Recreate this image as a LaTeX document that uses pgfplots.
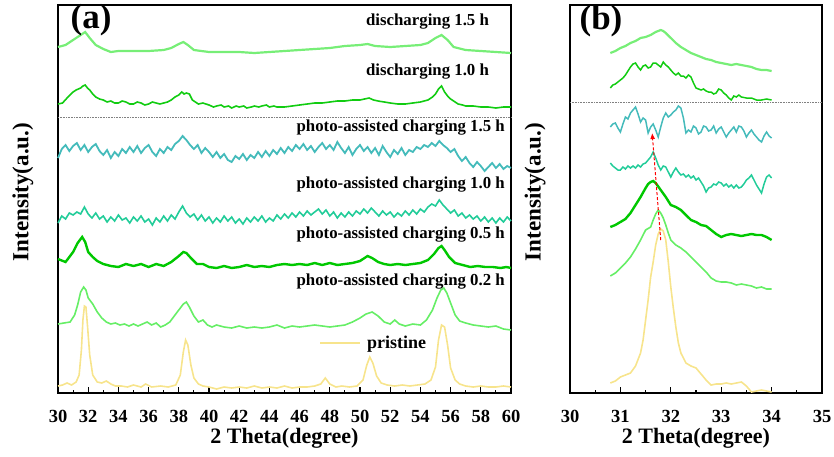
\documentclass[border=0pt]{standalone}
\usepackage{pgfplots}
\pgfplotsset{compat=1.18}
\usepackage{fontspec}
\setmainfont{Liberation Serif}
\usetikzlibrary{arrows.meta}
\definecolor{cpri}{HTML}{F7E48C}
\definecolor{c02}{HTML}{66EE66}
\definecolor{c05}{HTML}{00C800}
\definecolor{c10}{HTML}{22CC99}
\definecolor{c15}{HTML}{44BBBB}
\definecolor{d10}{HTML}{11CC11}
\definecolor{d15}{HTML}{77EE77}
\pgfplotsset{
  myaxis/.style={
    scale only axis, height=388pt,
    ymin=5, ymax=393, y dir=reverse, ytick=\empty,
    axis line style={line width=1.4pt},
    tick style={line width=1.1pt, black},
    tick align=inside, xtick pos=bottom,
    major tick length=6pt, minor tick length=3.5pt,
    /pgf/number format/assume math mode=true,
    ticklabel style={font=\bfseries\fontsize{18.5}{18.5}\selectfont},
    xticklabel style={yshift=-14pt},
    xlabel={2 Theta(degree)}, ylabel={Intensity(a.u.)},
    xlabel style={font=\bfseries\fontsize{22}{22}\selectfont, at={(axis description cs:0.5,0)}, anchor=center, yshift=-45pt},
    ylabel style={font=\bfseries\fontsize{23}{23}\selectfont, at={(axis description cs:0,0.518)}, anchor=center, rotate=0, yshift=35pt},
    clip=false,
  }
}
\begin{document}
\begin{tikzpicture}
\path[use as bounding box] (0pt,0pt) rectangle (834pt,456pt);
% ---------------- (a) ----------------
\begin{axis}[myaxis, at={(58pt,63pt)}, anchor=south west, width=453pt,
  xmin=30, xmax=60, xtick={30,32,...,60}, minor x tick num=1,
  legend style={draw=none, fill=none, at={(0.57,0.129)}, anchor=west,
    font=\bfseries\fontsize{18}{18}\selectfont},
  legend image code/.code={\draw[#1] (0pt,0pt) -- (40pt,0pt);},
  legend cell align=left]
\addplot[cpri, line width=1.6pt] coordinates {
(30.0,386)(30.3,385)(30.6,383)(30.9,385)(31.2,382)(31.4,375)(31.55,350)(31.65,320)(31.75,306)(31.85,307)(31.95,325)(32.1,355)(32.3,375)(32.6,382)(32.9,383)(33.2,381)(33.5,384)(33.8,386)(34.2,386)(34.6,387)(35.0,385)(35.5,387)(35.8,384)(36.2,387)(36.8,386)(37.3,387)(37.8,385)(38.1,375)(38.3,352)(38.45,340)(38.6,345)(38.8,365)(39.0,378)(39.3,384)(39.6,386)(40.0,387)(40.5,389)(41.0,387)(41.5,388)(42.0,387)(42.5,388)(43.0,386)(43.5,388)(44.0,387)(44.5,388)(45.0,386)(45.5,388)(46.0,387)(46.5,387)(47.0,386)(47.4,384)(47.7,378)(48.0,384)(48.4,387)(48.8,386)(49.3,387)(49.8,386)(50.2,380)(50.45,365)(50.65,357)(50.85,363)(51.1,376)(51.4,383)(51.8,385)(52.3,386)(52.8,385)(53.3,386)(53.8,385)(54.3,384)(54.7,380)(55.0,367)(55.2,340)(55.4,325)(55.6,327)(55.8,345)(56.0,368)(56.3,380)(56.6,384)(57.0,386)(57.5,387)(58.0,386)(58.5,387)(59.0,387)(59.5,386)(60.0,387)};
\addlegendentry{\hspace{4pt}pristine}
\addplot[c02, line width=1.6pt, forget plot] coordinates {
(30.0,324)(30.4,323)(30.8,322)(31.1,315)(31.3,305)(31.5,292)(31.7,287)(31.85,290)(32.0,298)(32.3,304)(32.6,312)(32.9,318)(33.2,322)(33.5,324)(33.8,323)(34.1,325)(34.4,324)(34.7,326)(35.0,324)(35.3,326)(35.6,324)(35.9,322)(36.2,325)(36.5,323)(36.8,327)(37.1,325)(37.4,322)(37.7,316)(38.0,310)(38.3,304)(38.5,302)(38.7,307)(39.0,316)(39.3,322)(39.6,320)(39.9,325)(40.2,327)(40.5,325)(41.0,327)(41.5,328)(42.0,326)(42.5,328)(43.0,327)(43.5,328)(44.0,327)(44.5,325)(45.0,328)(45.5,326)(46.0,327)(46.5,326)(47.0,325)(47.5,326)(48.0,327)(48.5,326)(49.0,325)(49.5,322)(50.0,318)(50.4,314)(50.8,312)(51.2,316)(51.6,322)(52.0,324)(52.3,320)(52.6,324)(53.0,326)(53.5,324)(54.0,325)(54.4,320)(54.8,310)(55.1,298)(55.35,290)(55.55,288)(55.75,293)(56.0,303)(56.3,315)(56.6,321)(57.0,323)(57.5,325)(58.0,326)(58.5,327)(59.0,326)(59.5,329)(60.0,330)};
\addplot[c05, line width=2.4pt, forget plot] coordinates {
(30.0,259)(30.5,262)(31.0,252)(31.3,243)(31.6,237)(31.8,242)(32.0,252)(32.3,257)(32.6,261)(33.0,264)(33.5,266)(34.0,267)(34.5,264)(35.0,266)(35.5,264)(36.0,267)(36.5,264)(37.0,266)(37.5,262)(38.0,256)(38.3,252)(38.5,253)(38.8,258)(39.2,264)(39.6,264)(40.0,267)(40.5,268)(41.0,266)(41.5,268)(42.0,267)(42.5,265)(43.0,267)(43.5,266)(44.0,267)(44.5,265)(45.0,264)(45.5,265)(46.0,264)(46.5,265)(47.0,263)(47.5,265)(48.0,263)(48.5,265)(49.0,264)(49.5,263)(50.0,261)(50.5,256)(50.8,258)(51.2,262)(51.6,264)(52.0,265)(52.5,264)(53.0,265)(53.5,264)(54.0,263)(54.5,260)(54.9,254)(55.2,248)(55.4,246)(55.6,250)(55.9,257)(56.3,263)(56.8,265)(57.3,267)(57.8,266)(58.3,267)(58.8,267)(59.3,268)(59.7,267)(60.0,268)};
\addplot[c10, line width=1.6pt, forget plot] coordinates {
(30.0,223)(30.25,216)(30.5,219)(30.75,213)(31.0,215)(31.25,212)(31.5,214)(31.75,207)(32.0,214)(32.25,218)(32.5,213)(32.75,219)(33.0,216)(33.25,222)(33.5,217)(33.75,221)(34.0,215)(34.25,220)(34.5,218)(34.75,223)(35.0,217)(35.25,221)(35.5,216)(35.75,222)(36.0,219)(36.25,225)(36.5,218)(36.75,222)(37.0,216)(37.25,221)(37.5,215)(37.75,219)(38.0,212)(38.25,206)(38.5,213)(38.75,217)(39.0,214)(39.25,220)(39.5,215)(39.75,221)(40.0,217)(40.25,223)(40.5,218)(40.75,222)(41.0,216)(41.25,221)(41.5,217)(41.75,223)(42.0,219)(42.25,224)(42.5,218)(42.75,222)(43.0,217)(43.25,221)(43.5,216)(43.75,222)(44.0,218)(44.25,221)(44.5,215)(44.75,219)(45.0,214)(45.25,218)(45.5,213)(45.75,217)(46.0,212)(46.25,216)(46.5,211)(46.75,215)(47.0,212)(47.25,209)(47.5,214)(47.75,210)(48.0,216)(48.25,212)(48.5,218)(48.75,213)(49.0,217)(49.25,212)(49.5,216)(49.75,211)(50.0,214)(50.25,209)(50.5,213)(50.75,208)(51.0,212)(51.25,216)(51.5,211)(51.75,215)(52.0,212)(52.25,217)(52.5,213)(52.75,216)(53.0,211)(53.25,215)(53.5,210)(53.75,214)(54.0,209)(54.25,212)(54.5,207)(54.75,204)(55.0,206)(55.25,200)(55.5,205)(55.75,209)(56.0,213)(56.25,210)(56.5,216)(56.75,213)(57.0,218)(57.25,215)(57.5,219)(57.75,216)(58.0,221)(58.25,217)(58.5,222)(58.75,218)(59.0,223)(59.25,218)(59.5,222)(59.75,217)(60.0,221)};
\addplot[c15, line width=1.8pt, forget plot] coordinates {
(30.0,158)(30.25,149)(30.5,145)(30.75,151)(31.0,146)(31.25,143)(31.5,150)(31.75,145)(32.0,152)(32.25,147)(32.5,144)(32.75,151)(33.0,155)(33.25,150)(33.5,158)(33.75,152)(34.0,156)(34.25,149)(34.5,153)(34.75,147)(35.0,152)(35.25,146)(35.5,153)(35.75,148)(36.0,145)(36.25,152)(36.5,156)(36.75,149)(37.0,153)(37.25,147)(37.5,150)(37.75,144)(38.0,141)(38.25,136)(38.5,140)(38.75,145)(39.0,149)(39.25,145)(39.5,153)(39.75,148)(40.0,152)(40.25,157)(40.5,152)(40.75,158)(41.0,154)(41.25,160)(41.5,162)(41.75,156)(42.0,159)(42.25,154)(42.5,160)(42.75,155)(43.0,158)(43.25,152)(43.5,157)(43.75,151)(44.0,156)(44.25,150)(44.5,154)(44.75,148)(45.0,153)(45.25,147)(45.5,151)(45.75,145)(46.0,149)(46.25,144)(46.5,150)(46.75,146)(47.0,152)(47.25,147)(47.5,143)(47.75,149)(48.0,145)(48.25,150)(48.5,142)(48.75,148)(49.0,153)(49.25,147)(49.5,155)(49.75,149)(50.0,145)(50.25,151)(50.5,147)(50.75,153)(51.0,148)(51.25,155)(51.5,146)(51.75,152)(52.0,157)(52.25,150)(52.5,154)(52.75,148)(53.0,155)(53.25,150)(53.5,152)(53.75,147)(54.0,149)(54.25,145)(54.5,147)(54.75,143)(55.0,146)(55.25,141)(55.5,145)(55.75,148)(56.0,152)(56.25,149)(56.5,156)(56.75,161)(57.0,157)(57.25,163)(57.5,167)(57.75,162)(58.0,166)(58.25,171)(58.5,167)(58.75,163)(59.0,168)(59.25,164)(59.5,169)(59.75,166)(60.0,168)};
\addplot[gray, densely dotted, line width=0.6pt, forget plot] coordinates {(30,117)(60,117)};
\addplot[d10, line width=1.6pt, forget plot] coordinates {
(30.0,104)(30.3,103)(30.6,98)(30.8,95)(31.0,92)(31.2,90)(31.5,88)(31.65,86)(31.8,85)(31.95,88)(32.1,90)(32.3,94)(32.5,97)(32.75,99)(33.0,100)(33.25,102)(33.5,101)(33.75,103)(34.0,103)(34.25,101)(34.5,102)(34.75,104)(35.0,104)(35.25,102)(35.5,103)(35.75,105)(36.0,104)(36.25,102)(36.5,103)(36.75,104)(37.0,103)(37.25,102)(37.5,100)(37.75,97)(38.0,95)(38.2,92)(38.35,94)(38.5,93)(38.7,94)(38.9,100)(39.1,102)(39.3,104)(39.6,103)(40.0,105)(40.3,107)(40.5,106)(40.8,105)(41.0,107)(41.3,106)(41.5,108)(41.8,106)(42.0,107)(42.3,106)(42.5,108)(42.8,107)(43.0,106)(43.3,107)(43.5,106)(43.8,105)(44.0,107)(44.3,106)(44.5,107)(45.0,107)(45.5,106)(46.0,105)(46.5,104)(47.0,103)(47.5,103)(48.0,102)(48.5,101)(49.0,101)(49.5,100)(50.0,100)(50.3,99)(50.6,98)(50.9,100)(51.2,101)(51.6,102)(52.0,103)(52.5,104)(53.0,104)(53.5,103)(54.0,102)(54.5,100)(54.8,97)(55.0,94)(55.2,89)(55.4,86)(55.6,92)(55.8,96)(56.0,99)(56.3,102)(56.5,104)(56.8,105)(57.0,106)(57.5,106)(58.0,107)(58.5,107)(59.0,108)(59.5,107)(60.0,107)};
\addplot[d15, line width=2.2pt, forget plot] coordinates {
(30.0,47)(30.5,45)(31.0,40)(31.3,37)(31.5,35)(31.8,32)(32.1,38)(32.5,45)(33.0,49)(33.5,52)(34.0,51)(35.0,51)(36.0,51)(37.0,50)(37.5,48)(38.0,44)(38.3,42)(38.6,45)(39.0,50)(39.5,51)(40.0,52)(41.0,52)(42.0,52)(43.0,53)(44.0,52)(45.0,51)(46.0,50)(47.0,49)(48.0,48)(48.5,47)(49.0,46)(50.0,45)(50.5,44)(51.0,46)(52.0,47)(53.0,46)(54.0,45)(54.5,43)(55.0,38)(55.4,35)(55.8,40)(56.2,47)(57.0,50)(58.0,51)(59.0,52)(60.0,53)};
\node[font=\bfseries\fontsize{35}{35}\selectfont] at (axis description cs:0.073,0.961) {(a)};
\begin{scope}[every node/.style={anchor=east, inner sep=0pt, font=\bfseries\fontsize{16.8}{16.8}\selectfont}]
\node at (axis cs:58.55,22) {discharging 1.5 h};
\node at (axis cs:58.55,72) {discharging 1.0 h};
\node at (axis cs:59.6,128) {photo-assisted charging 1.5 h};
\node at (axis cs:59.6,185) {photo-assisted charging 1.0 h};
\node at (axis cs:59.6,235) {photo-assisted charging 0.5 h};
\node at (axis cs:59.6,282) {photo-assisted charging 0.2 h};
\end{scope}
\end{axis}
% ---------------- (b) ----------------
\begin{axis}[myaxis, at={(570pt,63pt)}, anchor=south west, width=252pt,
  xmin=30, xmax=35, xtick={30,31,...,35}, minor x tick num=1]
\addplot[cpri, line width=1.6pt] coordinates {
(30.8,383)(30.9,381)(31.0,377)(31.1,375)(31.2,373)(31.3,366)(31.4,353)(31.45,340)(31.5,320)(31.55,300)(31.6,277)(31.65,262)(31.7,245)(31.75,234)(31.8,229)(31.85,231)(31.9,240)(31.95,262)(32.0,287)(32.05,308)(32.1,327)(32.15,343)(32.2,353)(32.3,363)(32.4,366)(32.5,368)(32.6,374)(32.7,380)(32.8,385)(32.9,384)(33.0,384)(33.1,383)(33.2,384)(33.3,383)(33.4,382)(33.5,386)(33.6,392)(33.7,391)(33.8,390)(33.9,391)(34.0,392)};
\addplot[c02, line width=1.6pt] coordinates {
(30.8,276)(30.9,273)(31.0,268)(31.1,263)(31.2,257)(31.3,249)(31.4,240)(31.5,230)(31.6,227)(31.65,220)(31.7,214)(31.75,210)(31.8,213)(31.85,218)(31.9,225)(31.95,233)(32.0,240)(32.1,245)(32.2,248)(32.3,252)(32.4,257)(32.5,262)(32.6,267)(32.7,272)(32.8,278)(32.9,281)(33.0,282)(33.1,282)(33.2,283)(33.3,285)(33.4,284)(33.5,285)(33.6,286)(33.7,288)(33.8,287)(33.9,289)(34.0,289)};
\addplot[c05, line width=2.4pt] coordinates {
(30.8,227)(30.9,225)(31.0,222)(31.1,219)(31.2,213)(31.3,205)(31.4,197)(31.5,188)(31.55,184)(31.6,182)(31.65,181)(31.7,183)(31.8,190)(31.9,197)(32.0,205)(32.1,207)(32.2,210)(32.3,215)(32.4,220)(32.5,222)(32.6,225)(32.7,226)(32.8,230)(32.9,234)(33.0,237)(33.1,235)(33.2,234)(33.3,235)(33.4,236)(33.5,235)(33.6,234)(33.7,235)(33.8,235)(33.9,237)(34.0,240)};
\addplot[c10, line width=1.5pt] coordinates {
(30.8,163)(30.85,166)(30.9,168)(30.95,170)(31.0,170)(31.05,167)(31.1,169)(31.15,166)(31.2,168)(31.25,166)(31.3,168)(31.35,165)(31.4,167)(31.45,164)(31.5,163)(31.55,160)(31.6,157)(31.65,152)(31.7,158)(31.75,165)(31.8,170)(31.85,166)(31.9,167)(31.95,172)(32.0,177)(32.05,172)(32.1,168)(32.15,172)(32.2,175)(32.25,174)(32.3,177)(32.35,175)(32.4,178)(32.45,176)(32.5,180)(32.55,178)(32.6,182)(32.65,186)(32.7,192)(32.75,188)(32.8,187)(32.85,184)(32.9,185)(32.95,182)(33.0,183)(33.05,186)(33.1,184)(33.15,187)(33.2,185)(33.25,188)(33.3,185)(33.35,188)(33.4,187)(33.45,184)(33.5,180)(33.55,178)(33.6,175)(33.65,180)(33.7,185)(33.75,189)(33.8,193)(33.85,184)(33.9,177)(33.95,175)(34.0,178)};
\addplot[c15, line width=1.5pt] coordinates {
(30.8,127)(30.85,124)(30.9,123)(30.95,128)(31.0,132)(31.05,124)(31.1,117)(31.15,119)(31.2,113)(31.25,110)(31.3,107)(31.35,114)(31.4,122)(31.45,118)(31.5,120)(31.55,133)(31.6,127)(31.65,124)(31.7,130)(31.75,137)(31.8,127)(31.85,118)(31.9,113)(31.95,117)(32.0,115)(32.05,112)(32.1,110)(32.15,106)(32.2,108)(32.25,118)(32.3,133)(32.35,130)(32.4,132)(32.45,126)(32.5,128)(32.55,134)(32.6,132)(32.65,126)(32.7,127)(32.75,131)(32.8,130)(32.85,126)(32.9,133)(32.95,129)(33.0,127)(33.05,132)(33.1,137)(33.15,133)(33.2,130)(33.25,127)(33.3,132)(33.35,126)(33.4,127)(33.45,131)(33.5,137)(33.55,133)(33.6,130)(33.65,134)(33.7,137)(33.75,140)(33.8,142)(33.85,136)(33.9,132)(33.95,136)(34.0,138)};
\addplot[gray, densely dotted, line width=0.6pt] coordinates {(30,102)(35,102)};
\addplot[d10, line width=1.5pt] coordinates {
(30.8,88)(30.85,85)(30.9,84)(30.95,82)(31.0,80)(31.05,78)(31.1,75)(31.15,71)(31.2,67)(31.25,64)(31.3,63)(31.35,67)(31.4,70)(31.45,66)(31.5,65)(31.55,68)(31.6,67)(31.65,63)(31.7,63)(31.75,65)(31.8,67)(31.85,62)(31.9,65)(31.95,67)(32.0,70)(32.05,73)(32.1,75)(32.15,73)(32.2,76)(32.25,76)(32.3,78)(32.35,75)(32.4,77)(32.45,83)(32.5,88)(32.55,89)(32.6,90)(32.65,89)(32.7,91)(32.75,92)(32.8,92)(32.85,94)(32.9,93)(32.95,89)(33.0,90)(33.05,93)(33.1,95)(33.15,98)(33.2,100)(33.25,96)(33.3,97)(33.35,95)(33.4,97)(33.5,98)(33.6,98)(33.7,100)(33.8,100)(33.9,99)(34.0,100)};
\addplot[d15, line width=2.2pt] coordinates {
(30.8,53)(30.9,51)(31.0,48)(31.1,46)(31.2,43)(31.3,41)(31.4,38)(31.5,37)(31.6,35)(31.7,32)(31.8,30)(31.85,31)(31.9,33)(32.0,38)(32.1,43)(32.2,47)(32.3,50)(32.4,53)(32.5,55)(32.6,57)(32.7,59)(32.8,60)(32.9,62)(33.0,63)(33.1,64)(33.2,65)(33.3,64)(33.4,65)(33.5,66)(33.6,67)(33.7,69)(33.8,70)(33.9,70)(34.0,71)};
\draw[red, densely dashed, line width=1pt, -{Latex[length=6pt,width=5pt]}] (axis cs:31.80,240) -- (axis cs:31.63,133);
\node[font=\bfseries\fontsize{35}{35}\selectfont] at (axis description cs:0.123,0.959) {(b)};
\end{axis}
\end{tikzpicture}
\end{document}
